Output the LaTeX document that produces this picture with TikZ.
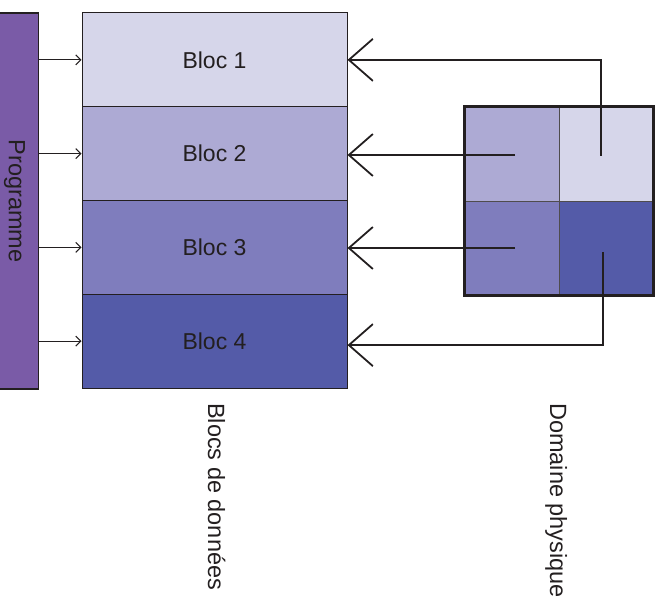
\documentclass[tikz,border=0pt]{standalone}
\usepackage{fontspec}
\setmainfont{Liberation Sans}
\usetikzlibrary{arrows.meta}
\definecolor{ink}{HTML}{231F20}
\definecolor{progc}{HTML}{7A5BA7}
\definecolor{cA}{HTML}{D6D6EA}
\definecolor{cB}{HTML}{ADAAD4}
\definecolor{cC}{HTML}{7F7DBD}
\definecolor{cD}{HTML}{545BA8}
\tikzset{
  txt/.style={font=\fontsize{23.5}{27}\selectfont, text=ink, inner sep=0pt},
  blocbox/.style={draw=ink, line width=1pt, minimum width=265pt, minimum height=93.75pt, inner sep=0pt, font=\fontsize{23}{27}\selectfont, text=ink, anchor=center},
  cellbox/.style={draw=ink!80, line width=0.8pt, minimum width=94.5pt, minimum height=94.5pt, inner sep=0pt},
  smallarrow/.style={draw=ink, line width=1.1pt, -{Straight Barb[length=5pt,width=10pt]}},
  bigarrow/.style={draw=ink, line width=1.8pt, -{Straight Barb[length=24pt,width=42pt]}},
}
\begin{document}
\begin{tikzpicture}[x=1pt,y=-1pt]
\useasboundingbox (0,0) rectangle (668,601);
% Programme bar
\node[draw=ink, line width=1.8pt, fill=progc, minimum width=44pt, minimum height=376pt, inner sep=0pt] (p) at (16.5,201) {};
\node[txt, rotate=-90, anchor=base] (ptxt) at (9,201) {Programme};
% Blocks
\node[blocbox, fill=cA] (b1) at (214.5,59.875) {Bloc 1};
\node[blocbox, fill=cB] (b2) at (214.5,153.625) {Bloc 2};
\node[blocbox, fill=cC] (b3) at (214.5,247.375) {Bloc 3};
\node[blocbox, fill=cD] (b4) at (214.5,341.125) {Bloc 4};
% Programme arrows
\foreach \b in {b1,b2,b3,b4}{
  \draw[smallarrow] (p.east |- \b.west) -- (\b.west);
}
% Grid
\node[cellbox, fill=cB] (g2) at (511.75,153.75) {};
\node[cellbox, fill=cA] (g1) at (606.25,153.75) {};
\node[cellbox, fill=cC] (g3) at (511.75,248.25) {};
\node[cellbox, fill=cD] (g4) at (606.25,248.25) {};
\node[draw=ink, line width=3.8pt, minimum width=189pt, minimum height=189pt, inner sep=0pt] (grid) at (559,201) {};
% Connectors
\coordinate (e1) at (601,156);
\coordinate (e2) at (515,155);
\coordinate (e3) at (515,248);
\coordinate (e4) at (603,252);
\draw[bigarrow] (e1) |- (b1.east);
\draw[bigarrow] (e2) -- (b2.east |- e2);
\draw[bigarrow] (e3) -- (b3.east |- e3);
\draw[bigarrow] (e4) |- ([yshift=-4pt]b4.east);
% Labels
\node[txt, rotate=-90, anchor=base west] (lb) at (208,403) {Blocs de données};
\node[txt, rotate=-90, anchor=base west] (ld) at (550,403) {Domaine physique};
\end{tikzpicture}
\end{document}
